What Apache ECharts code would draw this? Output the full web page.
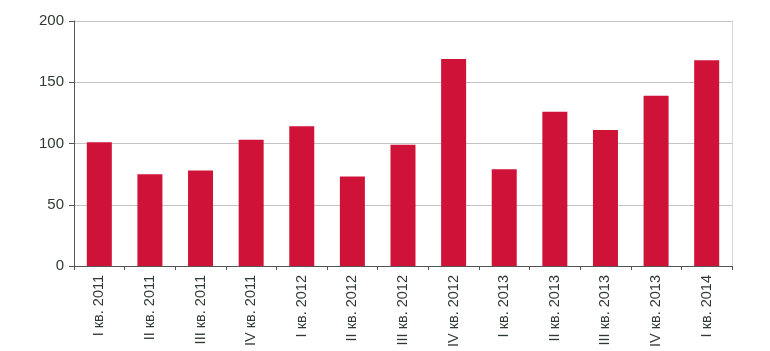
<!DOCTYPE html>
<html>
<head>
<meta charset="utf-8">
<script src="https://cdn.jsdelivr.net/npm/echarts@6/dist/echarts.min.js"></script>
<style>
  html, body { margin: 0; padding: 0; background: #fff; }
  #chart { width: 770px; height: 351px; }
</style>
</head>
<body>
<div id="chart"></div>
<script>
// кварталы
var categories = ['I кв. 2011', 'II кв. 2011', 'III кв. 2011', 'IV кв. 2011',
  'I кв. 2012', 'II кв. 2012', 'III кв. 2012', 'IV кв. 2012',
  'I кв. 2013', 'II кв. 2013', 'III кв. 2013', 'IV кв. 2013', 'I кв. 2014']
var values = [101, 75, 78, 103, 114, 73, 99, 169, 79, 126, 111, 139, 168]
var yTicks = [0, 50, 100, 150, 200]

var myChart = echarts.init(document.getElementById('chart'))
myChart.setOption({
  animation: false,
  textStyle: { fontFamily: 'Liberation Sans, Arial, sans-serif' },
  grid: { left: 74, right: 38, top: 21, bottom: 85 },
  xAxis: {
    type: 'category',
    data: categories,
    axisLine: { lineStyle: { color: '#555', width: 1 } },
    axisTick: { show: true, length: 4, lineStyle: { color: '#555' } },
    axisLabel: { rotate: 90, margin: 9, fontSize: 14.5, color: '#2f3a33', interval: 0 }
  },
  yAxis: [
    {
      type: 'value',
      min: yTicks[0],
      max: yTicks[yTicks.length - 1],
      interval: 50,
      axisLine: { show: true, lineStyle: { color: '#555' } },
      axisTick: { show: true, length: 5, lineStyle: { color: '#555' } },
      axisLabel: { fontSize: 15, color: '#2f3a33', margin: 10 },
      splitLine: { lineStyle: { color: '#c4c4c4' } }
    },
    {
      type: 'value',
      position: 'right',
      min: 0,
      max: 200,
      interval: 50,
      axisLine: { show: true, lineStyle: { color: '#d8d8d8' } },
      axisTick: { show: false },
      axisLabel: { show: false },
      splitLine: { show: false }
    }
  ],
  series: [{
    type: 'bar',
    data: values,
    barWidth: 25,
    itemStyle: { color: '#cf1238' }
  }]
})
</script>
</body>
</html>
